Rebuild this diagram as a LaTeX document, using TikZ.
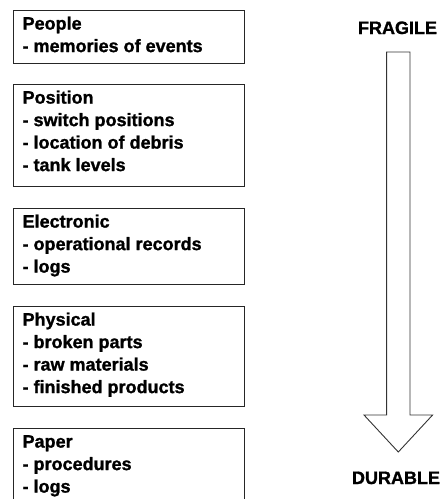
\documentclass[tikz,border=0pt]{standalone}
\usepackage{fontspec}
\setmainfont{Liberation Sans}[BoldFeatures={FakeBold=1.2}]
\newcommand{\itemtext}[2]{\parbox[c][#1][t]{231pt}{\raggedright\setlength{\leftskip}{9.5pt}\rule{0pt}{19pt}#2\par}}
\begin{document}
\begin{tikzpicture}[x=1pt,y=-1pt,
  itembox/.style={draw=black!85, line width=1.2pt, inner sep=0pt, anchor=north west,
    font=\fontsize{18}{22.5}\selectfont\bfseries},
  endlabel/.style={anchor=base, inner sep=0pt, font=\fontsize{18}{20}\selectfont\bfseries},
  arrowline/.style={draw=black!80, line width=0.9pt}]
\useasboundingbox (0,0) rectangle (444,499);
\clip (0,0) rectangle (444,499);
\node[itembox] (people) at (12.5,10) {\itemtext{53pt}{People\\- memories of events}};
\node[itembox] (position) at (12.5,84) {\itemtext{102pt}{Position\\- switch positions\\- location of debris\\- tank levels}};
\node[itembox] (electronic) at (12.5,208) {\itemtext{76pt}{Electronic\\- operational records\\- logs}};
\node[itembox] (physical) at (12.5,306) {\itemtext{100pt}{Physical\\- broken parts\\- raw materials\\- finished products}};
\node[itembox] (paper) at (12.5,428) {\itemtext{90pt}{Paper\\- procedures\\- logs}};
\node[endlabel] (fragile) at (397.5,34) {FRAGILE};
\node[endlabel] (durable) at (396,484) {DURABLE};
\coordinate (shafttop) at (398.3,52);
\coordinate (headbase) at (398.3,415);
\coordinate (tip) at (398.3,452);
\draw[arrowline] ([xshift=-11.7pt]shafttop) -- ([xshift=-11.7pt]headbase) -- ([xshift=-34.3pt]headbase)
  -- (tip) -- ([xshift=34.3pt]headbase) -- ([xshift=11.7pt]headbase) -- ([xshift=11.7pt]shafttop) -- cycle;
\end{tikzpicture}
\end{document}
